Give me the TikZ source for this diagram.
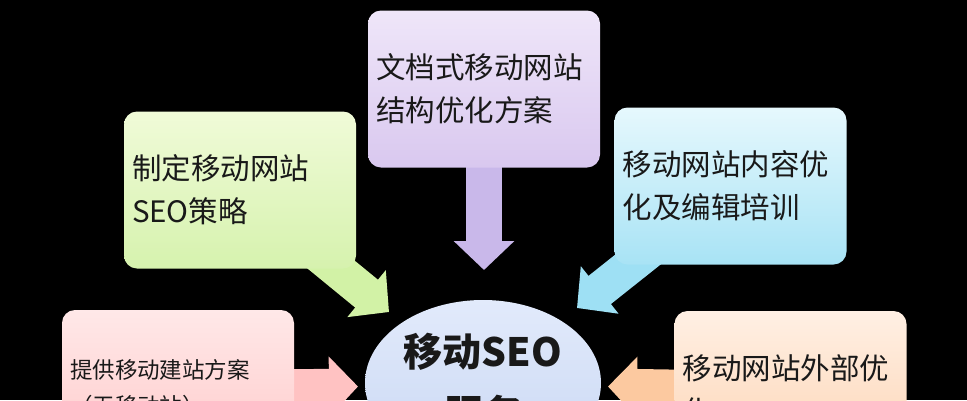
\documentclass[tikz,border=0pt]{standalone}
\usepackage{fontspec}
\setmainfont{Noto Sans CJK SC}
\usetikzlibrary{arrows.meta, shapes.geometric}

\definecolor{purpletop}{HTML}{EFE6F9}
\definecolor{purplebot}{HTML}{D9C8EF}
\definecolor{purplearrow}{HTML}{C9B8EA}
\definecolor{greentop}{HTML}{F0FBD8}
\definecolor{greenbot}{HTML}{D6F2AE}
\definecolor{greenarrow}{HTML}{D2F2A6}
\definecolor{cyantop}{HTML}{E6F8FD}
\definecolor{cyanbot}{HTML}{A8E3F5}
\definecolor{cyanarrow}{HTML}{9EE0F4}
\definecolor{pinktop}{HTML}{FFE8E8}
\definecolor{pinkbot}{HTML}{FFC9C9}
\definecolor{pinkarrow}{HTML}{FFC2C2}
\definecolor{orangetop}{HTML}{FFF0E4}
\definecolor{orangebot}{HTML}{FDD3B2}
\definecolor{orangearrow}{HTML}{FCC9A0}
\definecolor{hubtop}{HTML}{E2EAFB}
\definecolor{hubbot}{HTML}{C9D8F4}

\pgfdeclarelayer{backdrop}
\pgfdeclarelayer{links}
\pgfsetlayers{backdrop,links,main}

\begin{document}
\begin{tikzpicture}[
                    x=1pt, y=-1pt,
                    every node/.style={text=black!90},
                    topic/.style={rectangle, rounded corners=13pt, minimum width=232pt,
                                  minimum height=157pt, inner xsep=8pt, text width=216pt, align=left,
                                  font=\fontsize{29.5pt}{43pt}\selectfont},
                    hub/.style={ellipse, minimum width=236pt, minimum height=166pt, inner sep=0pt,
                                align=center, font=\bfseries\fontsize{39pt}{62pt}\selectfont},
                    flow/.style={line width=36pt, -{Triangle[length=29pt, width=59pt]}}
                ]
                  \useasboundingbox (0,0) rectangle (967,400);
                  \begin{pgfonlayer}{backdrop}
                    \fill[black] (0,0) rectangle (967,400);
                  \end{pgfonlayer}

                  \node[topic, top color=purpletop, bottom color=purplebot] (structure) at (484,89)
                    {文档式移动网站\\结构优化方案};
                  \node[topic, top color=greentop, bottom color=greenbot] (strategy) at (240,190)
                    {制定移动网站\\SEO策略};
                  \node[topic, top color=cyantop, bottom color=cyanbot] (content) at (730.5,186)
                    {移动网站内容优\\化及编辑培训};
                  \node[topic, top color=pinktop, bottom color=pinkbot,
                        font=\fontsize{22.5pt}{36pt}\selectfont] (building) at (178,388.5)
                    {提供移动建站方案\\（无移动站）};
                  \node[topic, top color=orangetop, bottom color=orangebot] (external) at (790.5,389.5)
                    {移动网站外部优\\化};
                  \node[hub, top color=hubtop, bottom color=hubbot] (seo) at (483,383)
                    {移动SEO\\服务};

                  \coordinate (structuretip) at (484,270);
                  \coordinate (strategytip) at (389,312);
                  \coordinate (contenttip) at (577,308);
                  \coordinate (buildingtip) at (358,386.5);
                  \coordinate (externaltip) at (608,386.5);

                  \begin{pgfonlayer}{links}
                    \draw[flow, purplearrow] (structure.center) -- (structuretip);
                    \draw[flow, greenarrow] (strategy.center) -- (strategytip);
                    \draw[flow, cyanarrow] (content.center) -- (contenttip);
                    \draw[flow, pinkarrow] (building.center) -- (buildingtip);
                    \draw[flow, orangearrow] (external.center) -- (externaltip);
                  \end{pgfonlayer}
                \end{tikzpicture}
\end{document}
